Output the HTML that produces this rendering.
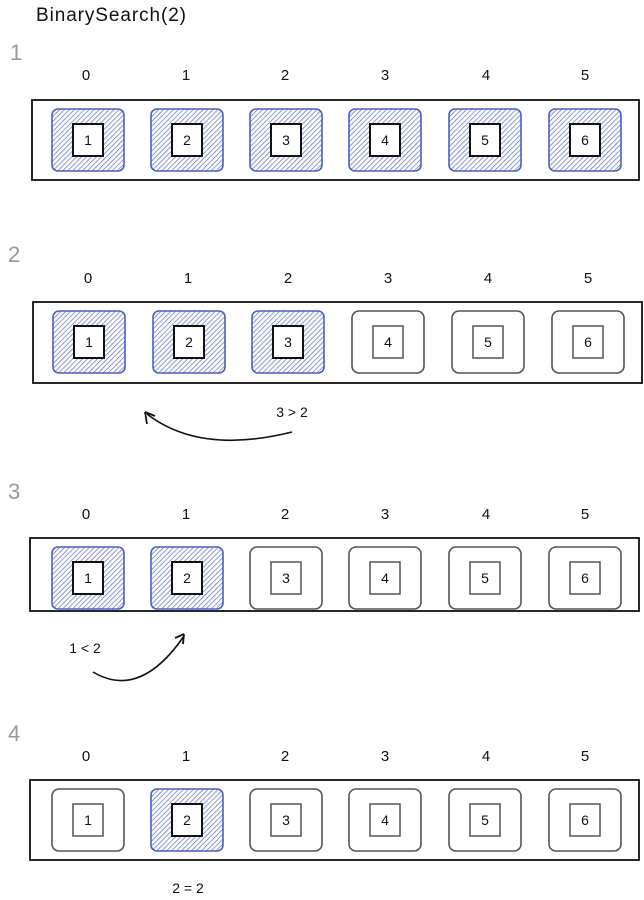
<!DOCTYPE html>
<html><head><meta charset="utf-8"><style>
html,body{margin:0;padding:0;background:#fff;}
svg{display:block;}
text{font-family:"Liberation Sans",sans-serif;}
</style></head><body>
<svg width="644" height="900" viewBox="0 0 644 900" xmlns="http://www.w3.org/2000/svg">
<defs>
<pattern id="h" width="3.5" height="3.5" patternUnits="userSpaceOnUse" patternTransform="rotate(45)">
<rect width="3.5" height="3.5" fill="#fff"/><line x1="0" y1="0" x2="0" y2="3.5" stroke="#5b6fc9" stroke-width="1.4"/>
</pattern>
<g id="b">
<rect x="-36" y="-31" width="72" height="62" rx="6" fill="url(#h)" stroke="#4a5fc4" stroke-width="1.6"/>
<rect x="-15" y="-16" width="30" height="32" fill="#fff" stroke="#111" stroke-width="2"/>
</g>
<g id="g">
<rect x="-36" y="-31" width="72" height="62" rx="7" fill="#fff" stroke="#555" stroke-width="1.6"/>
<rect x="-15" y="-16" width="30" height="32" fill="#fff" stroke="#555" stroke-width="1.5"/>
</g>
</defs>
<g font-size="19" fill="#111"><text x="36" y="21" textLength="150">BinarySearch(2)</text></g>
<g font-size="22" fill="#999"><text x="10" y="60">1</text><text x="8" y="262">2</text><text x="8" y="499">3</text><text x="8" y="741">4</text></g>

<g font-size="15" fill="#111" text-anchor="middle">
<text x="86" y="80">0</text><text x="186" y="80">1</text><text x="285" y="80">2</text><text x="385" y="80">3</text><text x="486" y="80">4</text><text x="585" y="80">5</text>
</g>
<rect x="32" y="100" width="607" height="80" fill="#fff" stroke="#111" stroke-width="1.8"/>
<use href="#b" x="88" y="140"/><use href="#b" x="187" y="140"/><use href="#b" x="286" y="140"/><use href="#b" x="385" y="140"/><use href="#b" x="485" y="140"/><use href="#b" x="585" y="140"/>
<g font-size="14" fill="#111" text-anchor="middle">
<text x="88" y="145">1</text><text x="187" y="145">2</text><text x="286" y="145">3</text><text x="385" y="145">4</text><text x="485" y="145">5</text><text x="585" y="145">6</text>
</g>

<g font-size="15" fill="#111" text-anchor="middle">
<text x="88" y="283">0</text><text x="188" y="283">1</text><text x="288" y="283">2</text><text x="388" y="283">3</text><text x="488" y="283">4</text><text x="588" y="283">5</text>
</g>
<rect x="33" y="302" width="609" height="81" fill="#fff" stroke="#111" stroke-width="1.8"/>
<use href="#b" x="89" y="342"/><use href="#b" x="189" y="342"/><use href="#b" x="288" y="342"/><use href="#g" x="388" y="342"/><use href="#g" x="488" y="342"/><use href="#g" x="588" y="342"/>
<g font-size="14" fill="#111" text-anchor="middle">
<text x="89" y="347">1</text><text x="189" y="347">2</text><text x="288" y="347">3</text><text x="388" y="347">4</text><text x="488" y="347">5</text><text x="588" y="347">6</text>
</g>
<text x="292" y="417" font-size="14" fill="#111" text-anchor="middle">3 &gt; 2</text>
<path d="M292 432 Q200 455 147 414" fill="none" stroke="#111" stroke-width="1.6"/>
<path d="M145 412 L147 424 M145 412 L155 416" fill="none" stroke="#111" stroke-width="1.8"/>

<g font-size="15" fill="#111" text-anchor="middle">
<text x="86" y="519">0</text><text x="186" y="519">1</text><text x="285" y="519">2</text><text x="385" y="519">3</text><text x="486" y="519">4</text><text x="585" y="519">5</text>
</g>
<rect x="30" y="538" width="609" height="73" fill="#fff" stroke="#111" stroke-width="1.8"/>
<use href="#b" x="88" y="578"/><use href="#b" x="187" y="578"/><use href="#g" x="286" y="578"/><use href="#g" x="385" y="578"/><use href="#g" x="485" y="578"/><use href="#g" x="585" y="578"/>
<g font-size="14" fill="#111" text-anchor="middle">
<text x="88" y="583">1</text><text x="187" y="583">2</text><text x="286" y="583">3</text><text x="385" y="583">4</text><text x="485" y="583">5</text><text x="585" y="583">6</text>
</g>
<text x="85" y="653" font-size="14" fill="#111" text-anchor="middle">1 &lt; 2</text>
<path d="M93 672 Q140 700 184 636" fill="none" stroke="#111" stroke-width="1.6"/>
<path d="M184 634 L175 638 M184 634 L183 644" fill="none" stroke="#111" stroke-width="1.8"/>

<g font-size="15" fill="#111" text-anchor="middle">
<text x="86" y="761">0</text><text x="186" y="761">1</text><text x="285" y="761">2</text><text x="385" y="761">3</text><text x="486" y="761">4</text><text x="585" y="761">5</text>
</g>
<rect x="30" y="780" width="609" height="80" fill="#fff" stroke="#111" stroke-width="1.8"/>
<use href="#g" x="88" y="820"/><use href="#b" x="187" y="820"/><use href="#g" x="286" y="820"/><use href="#g" x="385" y="820"/><use href="#g" x="485" y="820"/><use href="#g" x="585" y="820"/>
<g font-size="14" fill="#111" text-anchor="middle">
<text x="88" y="825">1</text><text x="187" y="825">2</text><text x="286" y="825">3</text><text x="385" y="825">4</text><text x="485" y="825">5</text><text x="585" y="825">6</text>
</g>
<text x="188" y="893" font-size="14" fill="#111" text-anchor="middle">2 = 2</text>
</svg>
</body></html>
